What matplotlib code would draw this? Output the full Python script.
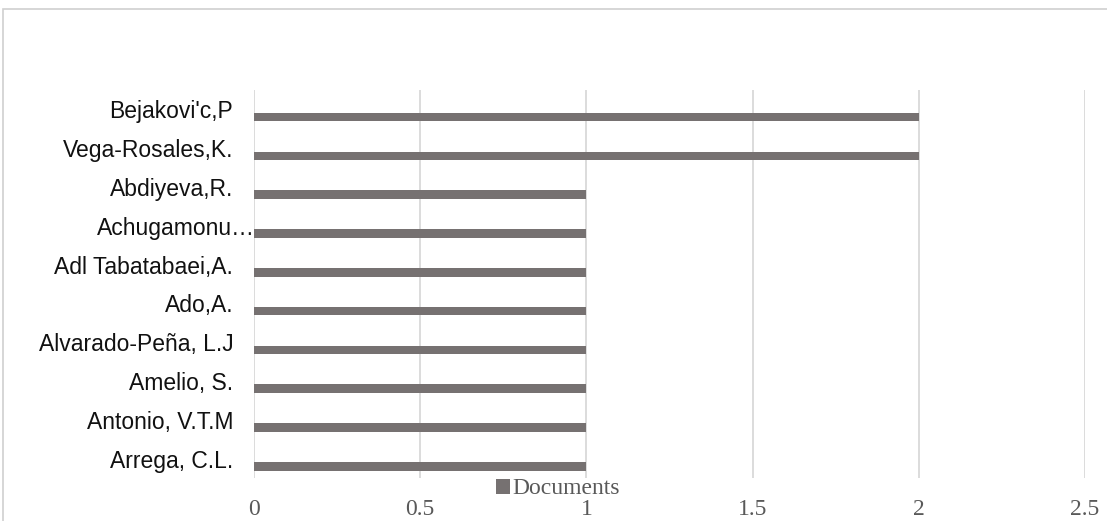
import matplotlib.pyplot as plt
from matplotlib.patches import Rectangle
from matplotlib.transforms import ScaledTranslation

authors = ["Bejakovi'c,P", "Vega-Rosales,K.", "Abdiyeva,R.", "Achugamonu…",
           "Adl Tabatabaei,A.", "Ado,A.", "Alvarado-Peña, L.J", "Amelio, S.",
           "Antonio, V.T.M", "Arrega, C.L."]
documents = [2, 2, 1, 1, 1, 1, 1, 1, 1, 1]
xticks = [0, 0.5, 1, 1.5, 2, 2.5]
xtick_labels = ["0", "0.5", "1", "1.5", "2", "2.5"]

W, H = 1107, 521
fig = plt.figure(figsize=(W / 100, H / 100), dpi=100)
ax = fig.add_axes([254 / W, 1 - 478 / H, (1085 - 254) / W, (478 - 90) / H])

# chart frame
fig.patches.append(Rectangle((3 / W, -0.1), 1.2, 1.1 - 9 / H,
                             transform=fig.transFigure, fill=False,
                             edgecolor="#d0d0d0", linewidth=1.2))

ypos = list(range(len(authors) - 1, -1, -1))
# bars sit a little below the category centre
bar_y = [y - 0.2 for y in ypos]
bars = ax.barh(bar_y, documents, height=0.22, color="#767171", zorder=3,
               label="Documents")

ax.set_xlim(0, 2.5)
ax.set_ylim(-0.5, len(authors) - 0.5)
ax.set_xticks(xticks)
ax.set_xticklabels(xtick_labels, family="Liberation Serif", fontsize=17,
                   color="#595959")
ax.set_yticks(ypos)
ax.set_yticklabels(authors, family="Liberation Sans", fontsize=16.5,
                   color="#111111")
ax.tick_params(axis="both", length=0)
ax.tick_params(axis="x", pad=15)
ax.tick_params(axis="y", pad=15)
ax.grid(axis="x", color="#d9d9d9", linewidth=1.3, zorder=0)
for s in ax.spines.values():
    s.set_visible(False)

# truncated label runs up to the axis
for lab in ax.get_yticklabels():
    if lab.get_text().endswith("…"):
        lab.set_transform(lab.get_transform() +
                          ScaledTranslation(22 / 100, 0, fig.dpi_scale_trans))

fig.legend(handles=[bars], labels=["Documents"], loc="center",
           bbox_to_anchor=(558 / W, 1 - 489 / H), frameon=False,
           prop={"family": "Liberation Serif", "size": 17},
           labelcolor="#595959", handlelength=0.6, handleheight=0.6,
           handletextpad=0.12, borderpad=0, borderaxespad=0)

fig.savefig("out.png", dpi=100)
